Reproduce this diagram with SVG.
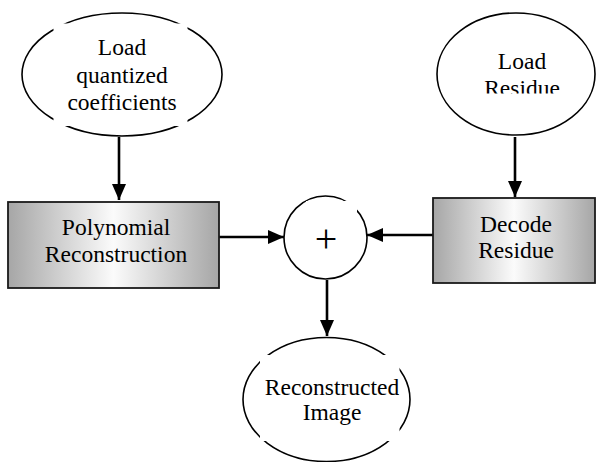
<svg xmlns="http://www.w3.org/2000/svg" width="596" height="462" viewBox="0 0 596 462">
  <defs>
    <linearGradient id="boxFill" x1="0" y1="0" x2="1" y2="0">
      <stop offset="0" stop-color="#a6a6a6"/>
      <stop offset="0.5" stop-color="#fbfbfb"/>
      <stop offset="1" stop-color="#a6a6a6"/>
    </linearGradient>
    <marker id="arrow" viewBox="0 0 16 14" refX="16" refY="7" markerWidth="16" markerHeight="14" markerUnits="userSpaceOnUse" orient="auto">
      <path d="M0,0 L16,7 L0,14 Z" fill="#000"/>
    </marker>
    <clipPath id="clipResidue"><rect x="430" y="20" width="166" height="73.5"/></clipPath>
    <clipPath id="clipImage"><rect x="260" y="355" width="139.5" height="86"/></clipPath>
  </defs>
  <style>
    .shape { fill: #fff; stroke: #000; stroke-width: 1.6; }
    .box { fill: url(#boxFill); stroke: #1a1a1a; stroke-width: 1.8; }
    .frame { fill: #fff; stroke: none; }
    text { font-family: 'Liberation Serif', 'DejaVu Serif Condensed', 'DejaVu Serif', serif; fill: #000; text-anchor: middle; }
    .label { font-size: 23.5px; }
    .plus { font-size: 40px; }
    .edge { fill: none; stroke: #000; stroke-width: 2.6; marker-end: url(#arrow); }
  </style>
  <rect width="596" height="462" fill="#fff"/>

  <g id="connectors">
    <line class="edge" x1="119" y1="137" x2="119" y2="200"/>
    <line class="edge" x1="515" y1="137" x2="515" y2="197"/>
    <line class="edge" x1="219" y1="237" x2="284" y2="237"/>
    <line class="edge" x1="433" y1="235" x2="367" y2="235"/>
    <line class="edge" x1="327" y1="280" x2="327" y2="336"/>
  </g>

  <g id="load-coefficients">
    <ellipse class="shape" cx="122" cy="74.5" rx="100" ry="61.5"/>
    <rect class="frame" x="53.5" y="23.5" width="134" height="102.5"/>
    <text class="label" x="122" y="55">Load</text>
    <text class="label" x="122" y="82.5">quantized</text>
    <text class="label" x="122" y="110">coefficients</text>
  </g>

  <g id="load-residue">
    <ellipse class="shape" cx="516" cy="74" rx="79" ry="61"/>
    <g clip-path="url(#clipResidue)">
      <text class="label" x="522" y="68.5">Load</text>
      <text class="label" x="522" y="95.5">Residue</text>
    </g>
  </g>

  <g id="polynomial-reconstruction">
    <rect class="box" x="8" y="202" width="211" height="86"/>
    <text class="label" x="116" y="235">Polynomial</text>
    <text class="label" x="116" y="261.5">Reconstruction</text>
  </g>

  <g id="decode-residue">
    <rect class="box" x="433" y="198" width="162" height="85"/>
    <text class="label" x="516" y="231.5">Decode</text>
    <text class="label" x="516" y="258">Residue</text>
  </g>

  <g id="sum">
    <circle class="shape" cx="325.5" cy="237.5" r="41.5"/>
    <rect class="frame" x="306" y="201" width="51" height="60"/>
    <text class="plus" x="326" y="252">+</text>
  </g>

  <g id="reconstructed-image">
    <ellipse class="shape" cx="326.5" cy="399.5" rx="83.5" ry="62"/>
    <rect class="frame" x="260" y="355" width="139.5" height="86"/>
    <g clip-path="url(#clipImage)">
      <text class="label" x="332" y="395">Reconstructed</text>
      <text class="label" x="332" y="420">Image</text>
    </g>
  </g>
</svg>
